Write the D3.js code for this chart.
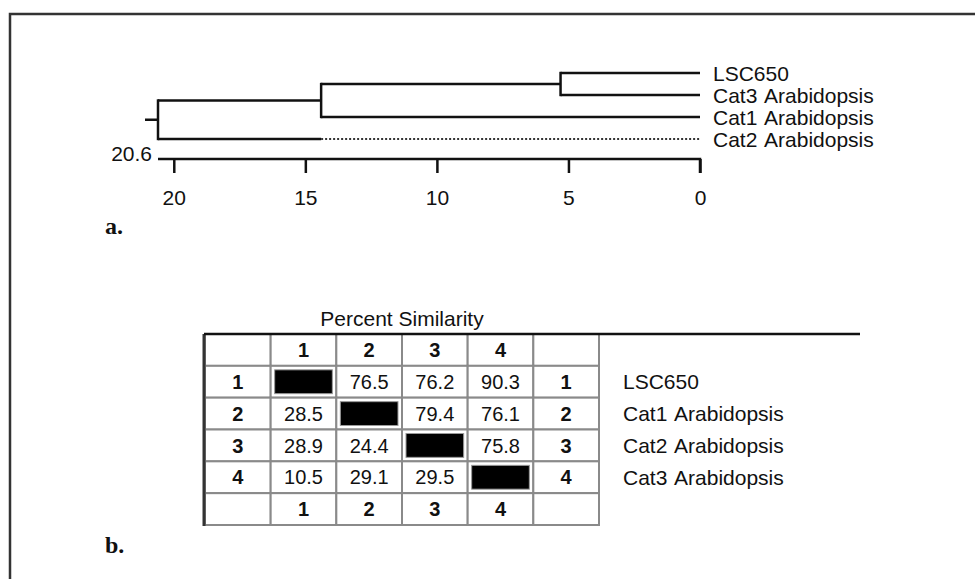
<!DOCTYPE html>
<html>
<head>
<meta charset="utf-8">
<script src="https://cdn.jsdelivr.net/npm/d3@7"></script>
<style>
  body { margin: 0; background: #fff; }
  svg text { font-family: "Liberation Sans", Arial, sans-serif; fill: #111; }
</style>
</head>
<body>
<div id="chart"></div>
<script>
// dendrogram data
var leaves = ["LSC650", "Cat3 Arabidopsis", "Cat1 Arabidopsis", "Cat2 Arabidopsis"];
var rootHeight = 20.6;
var merges = [
    { a: "LSC650", b: "Cat3 Arabidopsis", h: 5.3, name: "n1" },
    { a: "n1", b: "Cat1 Arabidopsis", h: 14.4, name: "n2" },
    { a: "n2", b: "Cat2 Arabidopsis", h: 20.6, name: "root" }
];
var axisTicks = [20, 15, 10, 5, 0];

// similarity table data
var tableTitle = "Percent Similarity";
var ids = ["1", "2", "3", "4"];
var names = ["LSC650", "Cat1 Arabidopsis", "Cat2 Arabidopsis", "Cat3 Arabidopsis"];
var similarity = [
    [null, 76.5, 76.2, 90.3],
    [28.5, null, 79.4, 76.1],
    [28.9, 24.4, null, 75.8],
    [10.5, 29.1, 29.5, null]
];

var width = 975, height = 579;

var svg = d3.select("#chart")
    .append("svg")
    .attr("width", width)
    .attr("height", height);

// outer frame
svg.append("path")
    .attr("d", "M10,579 V14 H975")
    .style("fill", "none")
    .style("stroke", "#333")
    .style("stroke-width", 2.5);

// ---- a. dendrogram ----
var x = d3.scaleLinear().domain([rootHeight, 0]).range([158, 700]);
var y = d3.scalePoint().domain(leaves).range([73, 139]);

var nodes = {};
leaves.forEach(function(l) { nodes[l] = { y: y(l), h: 0 }; });

var tree = svg.append("g").attr("class", "tree");

merges.forEach(function(m) {
    var na = nodes[m.a], nb = nodes[m.b];
    var xm = x(m.h);
    nodes[m.name] = { y: (na.y + nb.y) / 2, h: m.h };
    [[na, m.a], [nb, m.b]].forEach(function(p) {
        var n = p[0];
        if (p[1] == "Cat2 Arabidopsis") {
            // solid part up to the previous merge, dotted after it
            var hPrev = merges[1].h;
            tree.append("line")
                .attr("x1", xm).attr("x2", x(hPrev))
                .attr("y1", n.y).attr("y2", n.y)
                .style("stroke", "#111").style("stroke-width", 2.5);
            tree.append("line")
                .attr("x1", x(hPrev)).attr("x2", x(0))
                .attr("y1", n.y).attr("y2", n.y)
                .style("stroke", "#333").style("stroke-width", 2)
                .style("stroke-dasharray", "2,2");
        } else {
            tree.append("line")
                .attr("x1", xm).attr("x2", x(n.h))
                .attr("y1", n.y).attr("y2", n.y)
                .style("stroke", "#111").style("stroke-width", 2.5);
        }
    });
    tree.append("line")
        .attr("x1", xm).attr("x2", xm)
        .attr("y1", na.y - 1.2).attr("y2", nb.y + 1.2)
        .style("stroke", "#111").style("stroke-width", 2.5);
});

// root stub
var rootNode = nodes["root"];
tree.append("line")
    .attr("x1", x(rootHeight) - 13).attr("x2", x(rootHeight))
    .attr("y1", rootNode.y).attr("y2", rootNode.y)
    .style("stroke", "#111").style("stroke-width", 2.5);

// leaf labels
tree.selectAll(".leaf")
    .data(leaves)
    .enter()
    .append("text")
    .attr("x", x(0) + 13)
    .attr("y", function(d) { return y(d); })
    .attr("dy", "0.36em")
    .style("font-size", "21px")
    .style("word-spacing", "2px")
    .text(function(d) { return d; });

// axis
var axisY = 159;
var axis = d3.axisBottom(x).tickValues(axisTicks).tickSize(14).tickPadding(17)
    .tickFormat(d3.format("d"));
var ax = svg.append("g")
    .attr("transform", "translate(0," + axisY + ")")
    .call(axis);
ax.select(".domain").attr("d", "M" + x(rootHeight) + ",0H" + x(0) + "V14")
    .style("stroke", "#111").style("stroke-width", 2.5);
ax.selectAll(".tick line").style("stroke", "#111").style("stroke-width", 2.5);
ax.selectAll(".tick text").style("font-size", "21px")
    .style("font-family", "'Liberation Sans', Arial, sans-serif").style("fill", "#111");

svg.append("text")
    .attr("x", x(rootHeight) - 6)
    .attr("y", axisY + 2)
    .attr("text-anchor", "end")
    .style("font-size", "21px")
    .text(d3.format(".1f")(rootHeight));

svg.append("text")
    .attr("x", 105).attr("y", 234)
    .style("font-family", "'Liberation Serif', 'Times New Roman', serif")
    .style("font-weight", "bold")
    .style("font-size", "24px")
    .text("a.");

// ---- b. similarity table ----
var cols = ["label"].concat(ids).concat(["id"]);
var rows = ["head"].concat(ids).concat(["foot"]);
var cx = d3.scaleBand().domain(cols).range([205, 599]);
var cy = d3.scaleBand().domain(rows).range([334, 525]);

svg.append("text")
    .attr("x", 402)
    .attr("y", 326)
    .attr("text-anchor", "middle")
    .style("font-size", "21px")
    .text(tableTitle);

var table = svg.append("g").attr("class", "table");

var cells = [];
rows.forEach(function(r, ri) {
    cols.forEach(function(c, ci) {
        var txt = "", bold = false, black = false;
        if (r == "head" || r == "foot") {
            if (ci >= 1 && ci <= 4) { txt = c; bold = true; }
        } else {
            var i = ri - 1;
            if (c == "label" || c == "id") { txt = r; bold = true; }
            else {
                var v = similarity[i][ci - 1];
                if (v == null) black = true;
                else txt = d3.format(".1f")(v);
            }
        }
        cells.push({ r: r, c: c, txt: txt, bold: bold, black: black });
    });
});

table.selectAll("rect.cell")
    .data(cells)
    .enter()
    .append("rect")
    .attr("class", "cell")
    .attr("x", function(d) { return cx(d.c); })
    .attr("y", function(d) { return cy(d.r); })
    .attr("width", cx.bandwidth())
    .attr("height", cy.bandwidth())
    .style("fill", "#fff")
    .style("stroke", "#8a8a8a")
    .style("stroke-width", 2);

table.selectAll("rect.black")
    .data(cells.filter(function(d) { return d.black; }))
    .enter()
    .append("rect")
    .attr("class", "black")
    .attr("x", function(d) { return cx(d.c) + 4; })
    .attr("y", function(d) { return cy(d.r) + 4; })
    .attr("width", cx.bandwidth() - 8)
    .attr("height", cy.bandwidth() - 8)
    .style("fill", "#000")
    .style("stroke", "#999")
    .style("stroke-width", 1);

table.selectAll("text.val")
    .data(cells.filter(function(d) { return d.txt != ""; }))
    .enter()
    .append("text")
    .attr("class", "val")
    .attr("x", function(d) { return cx(d.c) + cx.bandwidth() / 2; })
    .attr("y", function(d) { return cy(d.r) + cy.bandwidth() / 2; })
    .attr("dy", "0.36em")
    .attr("text-anchor", "middle")
    .style("font-size", "20px")
    .style("font-weight", function(d) { return d.bold ? "bold" : "normal"; })
    .text(function(d) { return d.txt; });

// double left border and title rule
table.append("line")
    .attr("x1", 204).attr("x2", 204)
    .attr("y1", 334).attr("y2", 526)
    .style("stroke", "#333").style("stroke-width", 3);
svg.append("line")
    .attr("x1", 204).attr("x2", 860)
    .attr("y1", 334).attr("y2", 334)
    .style("stroke", "#111").style("stroke-width", 2.5);

// names beside the table
svg.selectAll(".name")
    .data(names)
    .enter()
    .append("text")
    .attr("x", 623)
    .attr("y", function(d, i) { return cy(ids[i]) + cy.bandwidth() / 2; })
    .attr("dy", "0.36em")
    .style("font-size", "21px")
    .style("word-spacing", "2px")
    .text(function(d) { return d; });

svg.append("text")
    .attr("x", 105).attr("y", 553)
    .style("font-family", "'Liberation Serif', 'Times New Roman', serif")
    .style("font-weight", "bold")
    .style("font-size", "24px")
    .text("b.");
</script>
</body>
</html>
